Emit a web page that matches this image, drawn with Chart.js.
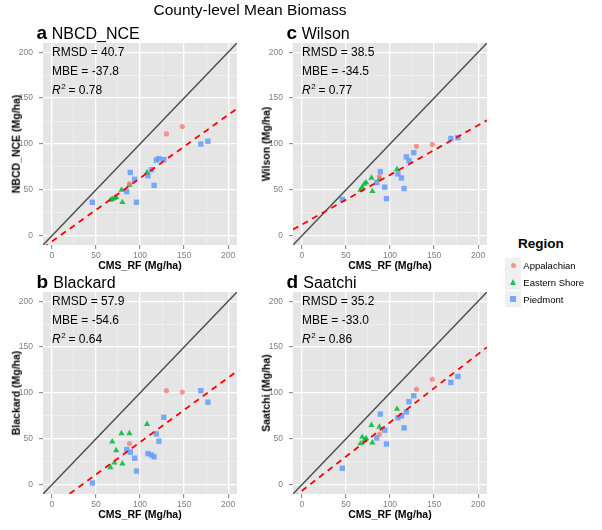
<!DOCTYPE html>
<html>
<head>
<meta charset="utf-8">
<script src="https://cdn.jsdelivr.net/npm/chart.js@4.4.0/dist/chart.umd.min.js"></script>
<style>
body{margin:0;background:#fff;font-family:"Liberation Sans",Arial,sans-serif;}
#wrap{position:relative;width:602px;height:530px;overflow:hidden;background:#fff}
canvas{position:absolute}
.t{position:absolute;white-space:nowrap;line-height:1;color:#000}
.key{position:absolute;width:16px;height:16px;background:#f0f0f0}
</style>
</head>
<body>
<div id="wrap"></div>
<script>
// CMS_RF values (x) per region, shared by all panels
const cmsAppal = [88, 130, 148];
const cmsEast = [66.5, 68.5, 71, 73, 79, 80, 88, 108];
const cmsPied = [46, 85, 89, 94, 96, 109, 113, 116, 118.5, 121.5, 127, 169, 177];

// y values per product
const nbcdAppal = [56.5, 111, 119];
const nbcdEast = [39, 40, 41, 42, 50, 36.5, 55, 69];
const nbcdPied = [36.5, 48, 69, 61.5, 36.5, 65.5, 72, 55, 82.5, 84, 83, 100, 103];

const blackAppal = [45, 102.5, 101];
const blackEast = [19, 47, 24, 37.5, 56, 23, 56, 66];
const blackPied = [2, 38.5, 35.5, 29, 15, 34, 32.5, 30.5, 55.5, 47.5, 73.5, 102.5, 90];

const wilsAppal = [64.5, 97.5, 99.5];
const wilsEast = [50, 53, 56.5, 58, 63, 48.5, 62, 72.5];
const wilsPied = [39.5, 58, 70, 53, 40.5, 67.5, 63, 51.5, 86, 82, 90.5, 106, 107];

const saatAppal = [55, 104, 115];
const saatEast = [45, 52, 48.5, 50.5, 65, 46, 63, 82.5];
const saatPied = [18, 51, 77, 59.5, 44.5, 73, 75, 62, 79.5, 90.5, 97, 111.5, 118];

// panel order: a, b, c, d
const letters = ['a', 'b', 'c', 'd'];
const names = ['NBCD_NCE', 'Blackard', 'Wilson', 'Saatchi'];
const rmsd = ['40.7', '57.9', '38.5', '35.2'];
const mbe = ['-37.8', '-54.6', '-34.5', '-33.0'];
const r2 = ['0.78', '0.64', '0.77', '0.86'];
const fitX = [-10, 210];
const fitLeft = [-13.2, -30.9, 6.8, -14.0];
const fitRight = [138.6, 123.7, 125.8, 149.9];
const tickVals = [0, 25, 50, 75, 100, 125, 150, 175, 200];
const regions = ['Appalachian', 'Eastern Shore', 'Piedmont'];

const ys = [
  [nbcdAppal, nbcdEast, nbcdPied],
  [blackAppal, blackEast, blackPied],
  [wilsAppal, wilsEast, wilsPied],
  [saatAppal, saatEast, saatPied]
];
const xs = [cmsAppal, cmsEast, cmsPied];
const colors = ['rgba(248,118,109,0.75)', 'rgba(0,186,56,0.85)', 'rgba(97,156,255,0.85)'];
const styles = ['circle', 'triangle', 'rect'];
const radii = [2.6, 3.6, 3.8];

Chart.defaults.font.family = '"Liberation Sans", Arial, sans-serif';

const wrap = document.getElementById('wrap');
function txt(html, css){
  const d = document.createElement('div');
  d.className = 't'; d.innerHTML = html; Object.assign(d.style, css);
  wrap.appendChild(d); return d;
}

const bgPlugin = {
  id: 'bg',
  beforeDraw(chart){
    const {ctx, chartArea: a} = chart;
    ctx.save(); ctx.fillStyle = '#e5e5e5';
    ctx.fillRect(a.left, a.top, a.right - a.left, a.bottom - a.top);
    ctx.restore();
  }
};
const statsPlugin = {
  id: 'stats',
  afterDraw(chart, args, o){
    const {ctx, chartArea: a} = chart;
    const f = '"Liberation Sans", Arial, sans-serif';
    const x = a.left + 9;
    ctx.save();
    ctx.fillStyle = '#000'; ctx.textBaseline = 'middle'; ctx.textAlign = 'left';
    ctx.font = '12px ' + f;
    ctx.fillText('RMSD = ' + o.rmsd, x, a.top + 10);
    ctx.fillText('MBE = ' + o.mbe, x, a.top + 28.5);
    ctx.font = 'italic 12px ' + f;
    ctx.fillText('R', x, a.top + 48);
    const w = ctx.measureText('R').width;
    ctx.font = '8px ' + f;
    ctx.fillText('2', x + w + 0.5, a.top + 43.5);
    ctx.font = '12px ' + f;
    ctx.fillText('= ' + o.r2, x + 16.5, a.top + 48);
    ctx.restore();
  }
};

function axis(isY){
  return {
    type: 'linear', min: -10, max: 210,
    border: {display: false},
    afterFit(s){
      if(isY) s.width = 43; else s.height = 33;
      s.paddingTop = 0; s.paddingBottom = 0; s.paddingLeft = 0; s.paddingRight = 0;
    },
    afterBuildTicks(s){ s.ticks = tickVals.map(v => ({value: v})); },
    grid: {
      color: c => c.tick && c.tick.value % 50 === 0 ? '#ffffff' : '#f3f3f3',
      lineWidth: c => c.tick && c.tick.value % 50 === 0 ? 1.3 : 0.6,
      tickColor: c => c.tick && c.tick.value % 50 === 0 ? '#7f7f7f' : 'rgba(0,0,0,0)',
      tickLength: 4, tickWidth: 1, drawTicks: true
    },
    ticks: {
      autoSkip: false, maxRotation: 0, padding: isY ? 6 : 2,
      color: '#7f7f7f', font: {size: 8.5},
      callback: v => v % 50 === 0 ? String(v) : ''
    }
  };
}

const plotLefts = [43, 43, 293, 293];
const plotTops = [43, 292, 43, 292];

for(let p = 0; p < 4; p++){
  const cv = document.createElement('canvas');
  cv.width = 250; cv.height = 240;
  cv.style.left = (plotLefts[p] - 43) + 'px';
  cv.style.top = (plotTops[p] - 5) + 'px';
  wrap.appendChild(cv);

  const datasets = [
    {data: fitX.map((x, i) => ({x, y: i ? fitRight[p] : fitLeft[p]})), showLine: true,
     borderColor: '#ff0000', borderWidth: 1.8, borderDash: [6, 5], pointRadius: 0, clip: 0},
    {data: fitX.map(x => ({x, y: x})), showLine: true,
     borderColor: '#4d4d4d', borderWidth: 1.5, pointRadius: 0, clip: 0}
  ];
  regions.forEach((r, k) => {
    datasets.push({
      label: r,
      data: xs[k].map((x, i) => ({x, y: ys[p][k][i]})),
      pointStyle: styles[k], pointRadius: radii[k], pointBackgroundColor: colors[k],
      pointBorderWidth: 0, borderColor: 'rgba(0,0,0,0)', showLine: false
    });
  });

  new Chart(cv, {
    type: 'scatter',
    data: {datasets},
    options: {
      responsive: false, animation: false, devicePixelRatio: 1,
      layout: {padding: {left: 0, top: 5, right: 13, bottom: 0}},
      scales: {x: axis(false), y: axis(true)},
      plugins: {legend: {display: false}, tooltip: {enabled: false},
        stats: {rmsd: rmsd[p], mbe: mbe[p], r2: r2[p]}}
    },
    plugins: [bgPlugin, statsPlugin]
  });

  // panel title, axis titles
  const left = plotLefts[p], top = plotTops[p];
  const base = top - 3.7;
  txt('<b>' + letters[p] + '</b>', {left: (left - 6.5) + 'px', top: (base - 0.8465 * 19) + 'px', fontSize: '19px'});
  txt(names[p], {left: (left + (letters[p] === 'a' || letters[p] === 'c' ? 8.7 : 10.3)) + 'px', top: (base - 0.8465 * 16) + 'px', fontSize: '16px'});
  txt('<b>CMS_RF (Mg/ha)</b>', {left: (left + 97) + 'px', top: (top + 226.3 - 8.9) + 'px', fontSize: '10.5px', transform: 'translateX(-50%)'});
  txt('<b>' + names[p] + ' (Mg/ha)</b>', {left: (left - 27.3) + 'px', top: (top + 101) + 'px', fontSize: '10.5px',
    transform: 'translate(-50%,-50%) rotate(-90deg)'});
}

txt('County-level Mean Biomass', {left: '250px', top: '1.9px', fontSize: '15.5px', transform: 'translateX(-50%)'});

// legend
txt('<b>Region</b>', {left: '518px', top: '236.9px', fontSize: '13.5px'});
const legendMarks = [
  '<div style="position:absolute;left:5.5px;top:5.5px;width:5px;height:5px;border-radius:50%;background:' + colors[0] + '"></div>',
  '<div style="position:absolute;left:4.5px;top:5px;width:0;height:0;border-left:3.5px solid transparent;border-right:3.5px solid transparent;border-bottom:6px solid ' + colors[1] + '"></div>',
  '<div style="position:absolute;left:5px;top:5px;width:6px;height:6px;background:' + colors[2] + '"></div>'
];
regions.forEach((r, k) => {
  const cy = 265.7 + k * 16.7;
  const key = document.createElement('div');
  key.className = 'key';
  key.style.left = '505px'; key.style.top = (cy - 8) + 'px';
  key.innerHTML = legendMarks[k];
  wrap.appendChild(key);
  txt(r, {left: '523.3px', top: (cy + 3.6 - 8.04) + 'px', fontSize: '9.5px'});
});
</script>
</body>
</html>
